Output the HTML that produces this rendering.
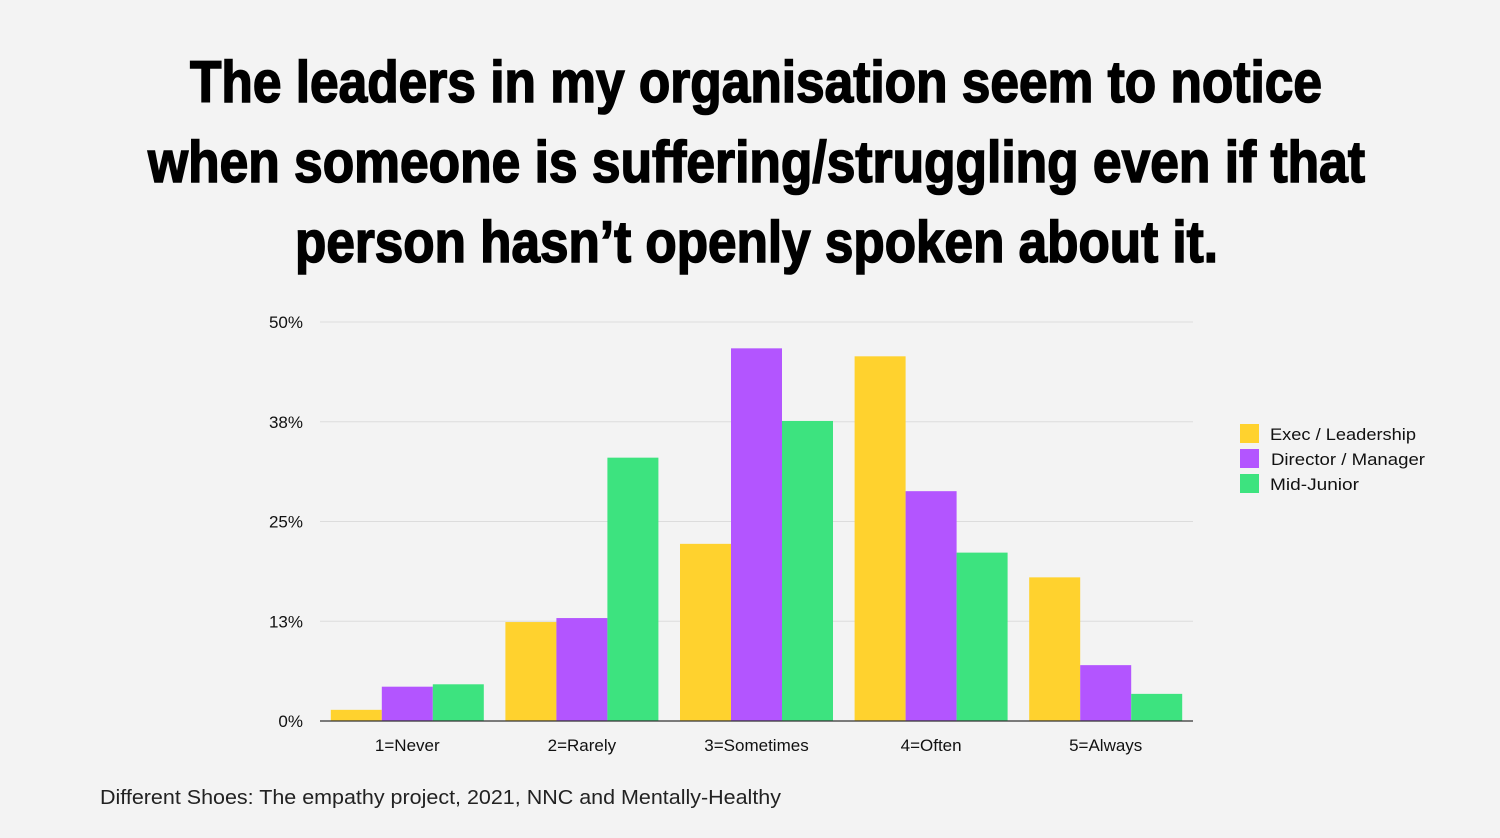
<!DOCTYPE html>
<html><head><meta charset="utf-8"><style>
html,body{margin:0;padding:0;background:#f3f3f3;}
svg{display:block;font-family:"Liberation Sans",sans-serif;}
</style></head><body>
<svg id="chart" width="1500" height="838" viewBox="0 0 1500 838">
<rect width="1500" height="838" fill="#f3f3f3"/>
<g font-weight="bold" font-size="58" fill="#000" stroke="#000" stroke-width="1.6" text-anchor="start">
<text x="190" y="102" textLength="1132" lengthAdjust="spacingAndGlyphs">The leaders in my organisation seem to notice</text>
<text x="148" y="182" textLength="1217" lengthAdjust="spacingAndGlyphs">when someone is suffering/struggling even if that</text>
<text x="295" y="262" textLength="923" lengthAdjust="spacingAndGlyphs">person hasn’t openly spoken about it.</text>
</g>
<g id="grid"></g>
<g id="bars"></g>
<g id="axes"></g>
<g font-size="17" fill="#111">
<g><rect x="1240" y="424" width="19" height="19" fill="#FFD22E"/><text x="1270" y="440" textLength="146" lengthAdjust="spacingAndGlyphs">Exec / Leadership</text></g>
<g><rect x="1240" y="449" width="19" height="19" fill="#B355FF"/><text x="1271" y="465" textLength="154" lengthAdjust="spacingAndGlyphs">Director / Manager</text></g>
<g><rect x="1240" y="474" width="19" height="19" fill="#3DE37F"/><text x="1270" y="490" textLength="89" lengthAdjust="spacingAndGlyphs">Mid-Junior</text></g>
</g>
<text x="100" y="804" font-size="20" fill="#222" textLength="681" lengthAdjust="spacingAndGlyphs">Different Shoes: The empathy project, 2021, NNC and Mentally-Healthy</text>
</svg>
<script>
const categories = ["1=Never","2=Rarely","3=Sometimes","4=Often","5=Always"];
const execValues = [1.4,12.4,22.2,45.7,18.0];
const directorValues = [4.3,12.9,46.7,28.8,7.0];
const midValues = [4.6,33.0,37.6,21.1,3.4];
const tickValues = [0,12.5,25,37.5,50];
const tickLabels = ["0%","13%","25%","38%","50%"];
const colors = ["#FFD22E","#B355FF","#3DE37F"];
const seriesNames = ["exec","director","mid"];

const NS="http://www.w3.org/2000/svg";
const x0=320,x1=1193,yBase=721,yTop=322,vmax=50;
const y=v=>yBase-(v/vmax)*(yBase-yTop);
const band=(x1-x0)/categories.length;
const xc=i=>x0+band*(i+0.5);
const bw=51;
function mk(tag,attrs,parent){const e=document.createElementNS(NS,tag);for(const k in attrs)e.setAttribute(k,attrs[k]);parent.appendChild(e);return e;}
const grid=document.getElementById('grid'),bars=document.getElementById('bars'),axes=document.getElementById('axes');
tickValues.forEach((t,i)=>{
  const l=mk('line',{x1:x0,x2:x1,y1:y(t),y2:y(t),stroke:i===0?'#333':'#dcdcdc','stroke-width':i===0?1.2:1},i===0?axes:grid);
  
  
  const tx=mk('text',{x:303,y:y(t)+6,'text-anchor':'end','font-size':17,fill:'#111'},axes);
  tx.textContent=tickLabels[i];
  
  
});
const series=[execValues,directorValues,midValues];
categories.forEach((c,i)=>{
  series.forEach((s,j)=>{
    const bx=xc(i)+(j-1.5)*bw;
    const r=mk('rect',{x:bx,y:y(s[i]),width:bw,height:yBase-y(s[i]),fill:colors[j]},bars);
    
    
  });
  const tx=mk('text',{x:xc(i),y:751,'text-anchor':'middle','font-size':17,fill:'#111'},axes);
  tx.textContent=c;
  
  
});
</script>
</body></html>
